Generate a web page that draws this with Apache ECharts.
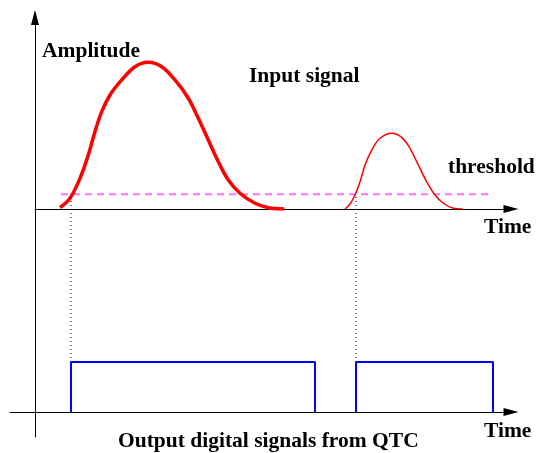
<!DOCTYPE html>
<html>
<head>
<meta charset="utf-8">
<script src="https://cdn.jsdelivr.net/npm/echarts@6/dist/echarts.min.js"></script>
<style>
    html, body { margin: 0; padding: 0; background: #fff; }
    #chart { width: 536px; height: 453px; }
</style>
</head>
<body>
<div id="chart"></div>
<script>
// input signal pulses: [time, amplitude]
let pulse1 = [[5.25, 0.009], [7.35, 0.073], [9.45, 0.208], [11.2, 0.367], [12.6, 0.525], [14.01, 0.661],
    [15.76, 0.774], [18.21, 0.876], [21.01, 0.966], [23.8, 0.996], [26.62, 0.966], [29.41, 0.876],
    [32.21, 0.752], [34.31, 0.616], [36.41, 0.468], [38.51, 0.321], [40.61, 0.197], [43.07, 0.107],
    [46.22, 0.039], [49.01, 0.009], [52.37, 0]]
let pulse2 = [[65.13, 0], [66.18, 0.034], [67.23, 0.095], [68.28, 0.185], [69.33, 0.299], [70.74, 0.4],
    [72.48, 0.48], [74.94, 0.514], [77.04, 0.486], [78.78, 0.412], [80.53, 0.299], [82.29, 0.185],
    [84.03, 0.095], [85.78, 0.039], [87.88, 0.005], [89.85, 0]]
let threshold = 0.1
let thresholdSpan = [5.46, 95.17]
// output digital pulses: [start, end]
let digital = [[7.56, 58.82], [67.44, 96.22]]
let guideTop = 4.3

let tMax = 100
let pxPerT = 4.76

let font = '"Liberation Serif", serif'
let label = (text, x, y) => ({
    type: 'text', left: x, top: y,
    style: { text: text, font: 'bold 21.5px ' + font, fill: '#000' }
})

let digitalSeries = digital.map(d => ({
    type: 'line', xAxisIndex: 1, yAxisIndex: 1, symbol: 'none',
    data: [[d[0], 0], [d[0], 1], [d[1], 1], [d[1], 0]],
    lineStyle: { color: '#0000ff', width: 2 }
}))
let guideSeries = digital.map(d => ({
    type: 'line', xAxisIndex: 1, yAxisIndex: 1, symbol: 'none',
    data: [[d[0], 1], [d[0], guideTop]],
    lineStyle: { color: '#000', width: 1, type: [1, 3] }
}))

let axisLine = (arrow) => ({
    show: true, onZero: true,
    symbol: arrow ? ['none', 'triangle'] : 'none',
    symbolSize: [8, 15],
    lineStyle: { color: '#000', width: 1 }
})
let hidden = { axisTick: { show: false }, axisLabel: { show: false }, splitLine: { show: false } }

let myChart = echarts.init(document.getElementById('chart'))
myChart.setOption({
    animation: false,
    grid: [
        { left: 35, right: 25, top: 17.5, height: 191.5 },
        { left: 10, right: 25, top: 190, bottom: 16 }
    ],
    xAxis: [
        { type: 'value', gridIndex: 0, min: 0, max: tMax, axisLine: axisLine(true), ...hidden },
        { type: 'value', gridIndex: 1, min: -25 / pxPerT, max: tMax, axisLine: axisLine(true), ...hidden }
    ],
    yAxis: [
        { type: 'value', gridIndex: 0, min: 0, max: 1.3, axisLine: axisLine(true), ...hidden },
        { type: 'value', gridIndex: 1, min: -0.5, max: 4.44, axisLine: axisLine(false), ...hidden }
    ],
    series: [
        {
            type: 'line', data: pulse1, smooth: 0.35, symbol: 'none',
            lineStyle: { color: '#ff0000', width: 3.5 }
        },
        {
            type: 'line', data: pulse2, smooth: 0.35, symbol: 'none',
            lineStyle: { color: '#ff0000', width: 1.5 }
        },
        {
            type: 'line', symbol: 'none', z: 1,
            data: [[thresholdSpan[0], threshold], [thresholdSpan[1], threshold]],
            lineStyle: { color: '#ff70ff', width: 2, type: [7, 5] }
        },
        ...digitalSeries,
        ...guideSeries
    ],
    graphic: [
        label('Amplitude', 42, 40),
        label('Input signal', 249, 65),
        label('threshold', 448, 156),
        label('Time', 484, 216),
        label('Time', 484, 420),
        label('Output digital signals from QTC', 118, 430)
    ]
})
</script>
</body>
</html>
